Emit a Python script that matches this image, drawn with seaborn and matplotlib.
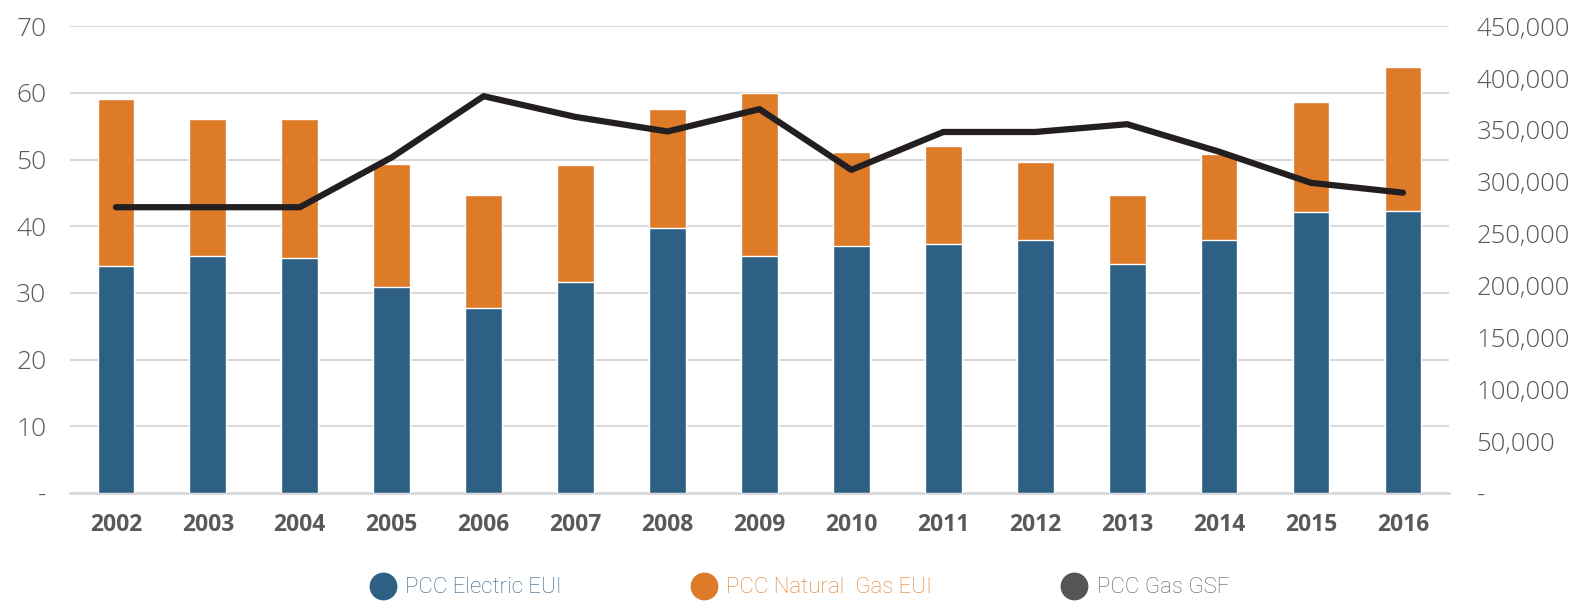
import matplotlib
matplotlib.use("Agg")
import matplotlib.pyplot as plt
import matplotlib.ticker as mticker
from matplotlib.lines import Line2D
import seaborn as sns
import pandas as pd

# values
years = ["2002", "2003", "2004", "2005", "2006", "2007", "2008", "2009",
         "2010", "2011", "2012", "2013", "2014", "2015", "2016"]
electric_eui = [34.1, 35.5, 35.3, 30.9, 27.7, 31.7, 39.7, 35.5,
                37.0, 37.4, 37.9, 34.4, 37.9, 42.1, 42.3]
gas_eui = [25.0, 20.6, 20.8, 18.5, 17.0, 17.5, 17.9, 24.5,
           14.1, 14.6, 11.8, 10.3, 13.0, 16.5, 21.6]
gas_gsf = [275500, 275500, 275500, 323500, 382500, 362500, 348500, 370000,
           311500, 348000, 348000, 355500, 329000, 299000, 289500]

BLUE = "#2E5F85"
ORANGE = "#DE7B28"
LINE = "#231F20"
GREY = "#595959"
GRID = "#D9D9D9"

df = pd.DataFrame({"year": years, "electric": electric_eui, "gas": gas_eui, "gsf": gas_gsf})
df["total"] = df["electric"] + df["gas"]
df["pos"] = range(len(df))

sns.set_theme(style="white")
plt.rcParams["font.family"] = ["Open Sans", "DejaVu Sans"]

fig = plt.figure(figsize=(15.83, 6.08), dpi=100)
ax = fig.add_axes([0.0442, 0.189, 0.8711, 0.768])

# stacked bars: total (orange) behind, electric (blue) in front
sns.barplot(data=df, x="year", y="total", color=ORANGE, width=0.4,
            saturation=1, ax=ax, zorder=2)
sns.barplot(data=df, x="year", y="electric", color=BLUE, width=0.4,
            saturation=1, ax=ax, zorder=3)

ax.set_ylim(0, 70)
ax.set_yticks(range(0, 71, 10))
ax.yaxis.set_major_formatter(mticker.FuncFormatter(lambda v, p: "-" if v == 0 else f"{v:.0f}"))
ax.grid(axis="y", color=GRID, linewidth=1.5, zorder=0)
ax.set_axisbelow(True)
for s in ["top", "right", "left"]:
    ax.spines[s].set_visible(False)
ax.spines["bottom"].set_color(GRID)
ax.spines["bottom"].set_linewidth(2)
ax.set_xlabel("")
ax.set_ylabel("")
ax.tick_params(axis="y", length=0, pad=17, labelsize=19, labelcolor=GREY)
ax.tick_params(axis="x", length=0, pad=14, labelsize=16.5, labelcolor=GREY)
for lbl in ax.get_xticklabels():
    lbl.set_fontweight("bold")
for lbl in ax.get_yticklabels():
    lbl.set_fontweight("light")

# GSF line on the secondary axis
ax2 = ax.twinx()
sns.lineplot(data=df, x="pos", y="gsf", color=LINE, linewidth=4.5,
             solid_capstyle="round", ax=ax2)
ax2.set_ylim(0, 450000)
ax2.set_yticks(range(0, 450001, 50000))
ax2.yaxis.set_major_formatter(mticker.FuncFormatter(lambda v, p: "-" if v == 0 else f"{v:,.0f}"))
ax2.set_ylabel("")
ax2.set_xlabel("")
for s in ax2.spines.values():
    s.set_visible(False)
ax2.tick_params(axis="y", length=0, pad=20, labelsize=18.5, labelcolor=GREY)
for lbl in ax2.get_yticklabels():
    lbl.set_fontweight("light")
ax.set_xlim(-0.5, len(years) - 0.5)

handles = [
    Line2D([], [], marker="o", linestyle="", markersize=19, color=BLUE),
    Line2D([], [], marker="o", linestyle="", markersize=19, color=ORANGE),
    Line2D([], [], marker="o", linestyle="", markersize=19, color="#555555"),
]
labels = ["PCC Electric EUI", "PCC Natural  Gas EUI", "PCC Gas GSF"]
leg = fig.legend(handles, labels, loc="center", bbox_to_anchor=(0.502, 0.033),
                 ncol=3, frameon=False, handletextpad=0.0, columnspacing=5.4,
                 prop={"family": "Roboto", "size": 16, "weight": "light"},
                 labelcolor=[BLUE, ORANGE, GREY])

fig.savefig("out.png", dpi=100)
